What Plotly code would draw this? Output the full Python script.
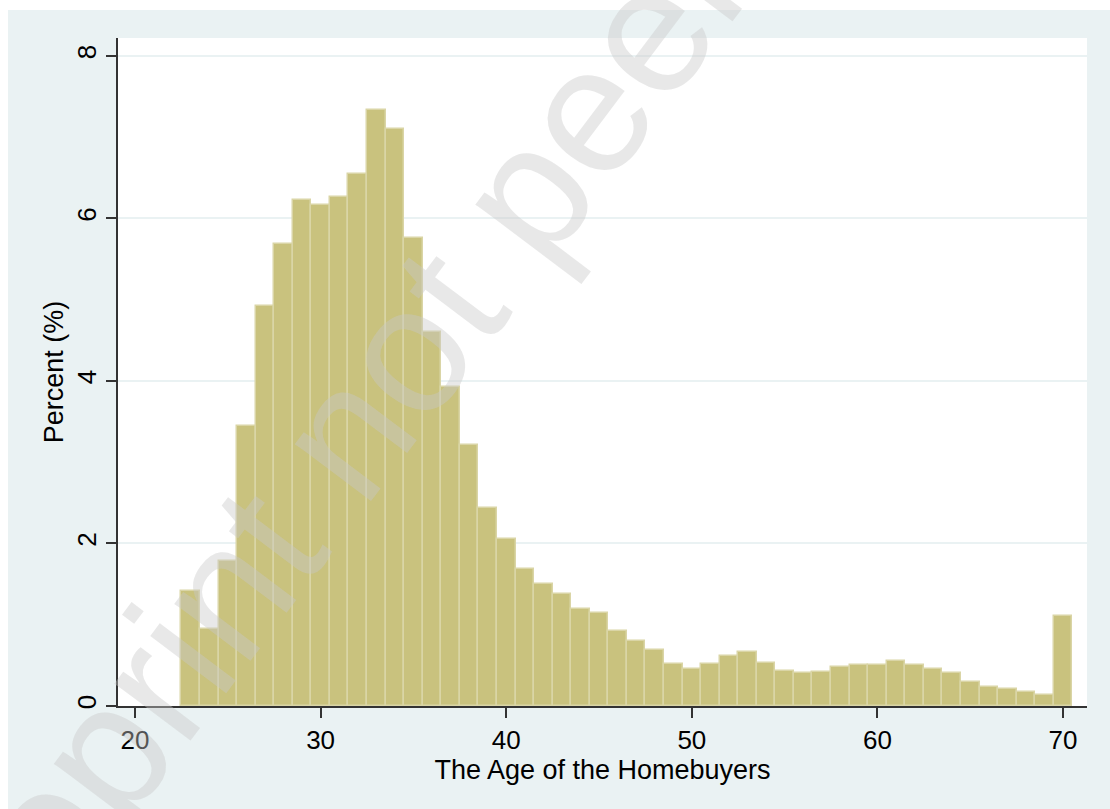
import plotly.graph_objects as go

# Age bins (1-year wide, centred on each integer age) and percent of buyers
ages = list(range(23, 71))
percent = [
    1.42, 0.95, 1.79, 3.45, 4.92, 5.68, 6.23, 6.16, 6.26, 6.55,
    7.33, 7.10, 5.76, 4.60, 3.93, 3.21, 2.44, 2.05, 1.69, 1.50,
    1.38, 1.19, 1.14, 0.92, 0.80, 0.69, 0.52, 0.46, 0.52, 0.62,
    0.66, 0.53, 0.43, 0.40, 0.42, 0.48, 0.51, 0.50, 0.55, 0.50,
    0.46, 0.40, 0.30, 0.23, 0.21, 0.17, 0.14, 1.11,
]
x_ticks = [20, 30, 40, 50, 60, 70]
y_ticks = [0, 2, 4, 6, 8]

FONT = "Liberation Sans, Arial, sans-serif"
BG = "#EAF2F3"

fig = go.Figure()
fig.add_trace(go.Bar(
    x=ages,
    y=percent,
    width=1,
    marker=dict(color="#C9C27E", line=dict(color="#DAD5A6", width=1.5)),
    showlegend=False,
))

# page layout: margins put the plot area at fixed pixel positions
W, H = 1110, 809
L, R, T, B = 118, 23, 38, 103
pw, ph = W - L - R, H - T - B

def px_x(p):
    return (p - L) / pw

def px_y(p):
    return (H - B - p) / ph

shapes = [
    # thin white frame along the top and left page edges
    dict(type="rect", xref="paper", yref="paper", x0=px_x(0), x1=px_x(W),
         y0=px_y(10), y1=px_y(0), fillcolor="white", line=dict(width=0), layer="below"),
    dict(type="rect", xref="paper", yref="paper", x0=px_x(0), x1=px_x(8),
         y0=px_y(H), y1=px_y(0), fillcolor="white", line=dict(width=0), layer="below"),
]

fig.update_layout(
    width=W, height=H,
    margin=dict(l=L, r=R, t=T, b=B, pad=0),
    paper_bgcolor=BG,
    plot_bgcolor="white",
    bargap=0,
    font=dict(family=FONT, size=26, color="black"),
    shapes=shapes,
    xaxis=dict(
        range=[19.084, 71.29],
        tickmode="array", tickvals=x_ticks,
        ticks="outside", ticklen=10, tickwidth=1.5, tickcolor="#333",
        showline=True, linecolor="#333", linewidth=1.5,
        showgrid=False, zeroline=False,
        tickfont=dict(size=26),
        title=dict(text="The Age of the Homebuyers", font=dict(size=27), standoff=1),
    ),
    yaxis=dict(
        range=[0, 8.22],
        tickmode="array", tickvals=y_ticks,
        tickangle=-90,
        ticks="outside", ticklen=10, tickwidth=1.5, tickcolor="#333",
        showline=True, linecolor="#333", linewidth=1.5,
        showgrid=True, gridcolor=BG, gridwidth=2,
        zeroline=False,
        tickfont=dict(size=26),
        title=dict(text="Percent (%)", font=dict(size=27), standoff=0),
    ),
    annotations=[
        dict(
            text="Preprint not peer reviewed",
            xref="x", yref="y", x=41.8, y=6.55,
            showarrow=False, textangle=-53,
            xanchor="center", yanchor="middle",
            font=dict(family=FONT, size=180, color="rgba(200,200,200,0.42)"),
        )
    ],
)

fig.write_html("out.html")
